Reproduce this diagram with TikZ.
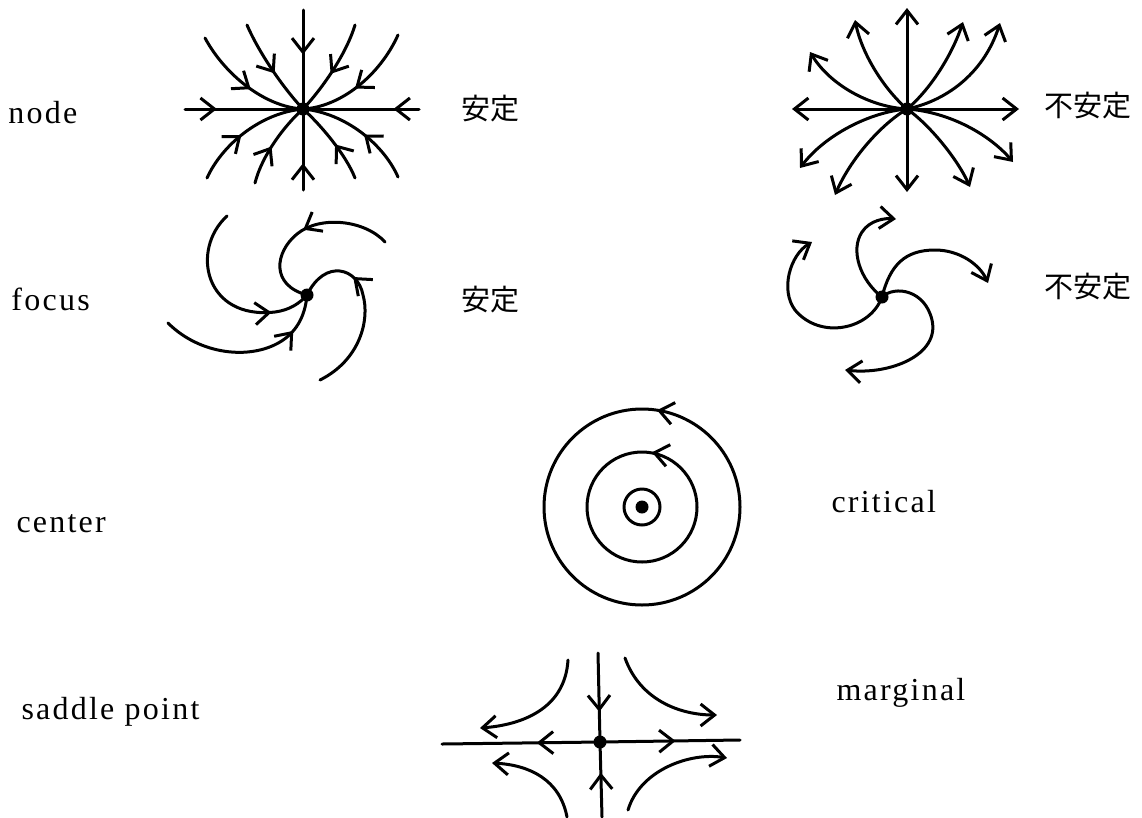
\documentclass[tikz,border=0pt]{standalone}
\usepackage{fontspec}
\setmainfont{Liberation Serif}[LetterSpace=7]
\newfontfamily\cjk{Noto Sans CJK JP}
\usetikzlibrary{arrows.meta,decorations.markings}
\begin{document}
\begin{tikzpicture}[x=1pt,y=-1pt,line width=3pt,line cap=round,
  >={Straight Barb[length=14pt,width=22pt]},
  dot/.style={circle,fill,inner sep=0pt,minimum size=13pt},
  midarr/.style={postaction={decorate},decoration={markings,mark=at position #1 with {\arrow{>}}}},
  lab/.style={font=\fontsize{32}{36}\selectfont,inner sep=0pt,anchor=base west},
  jlab/.style={font=\cjk\fontsize{29}{34}\selectfont,inner sep=0pt,anchor=west}]
\useasboundingbox (0,0) rectangle (1142,817);

% ---------- labels ----------
\node[lab] (tnode) at (7,123) {node};
\node[lab] (tfocus) at (10,310) {focus};
\node[lab] (tcenter) at (15,532) {center};
\node[lab] (tsaddle) at (20,719) {saddle point};
\node[lab] (tcrit) at (830,512) {critical};
\node[lab] (tmarg) at (835,700) {marginal};
\node[jlab] (s1) at (460,109) {安定};
\node[jlab] (u1) at (1043,106) {不安定};
\node[jlab] (s2) at (460,300) {安定};
\node[jlab] (u2) at (1043,287) {不安定};

% ---------- stable node ----------
\node[dot] (c1) at (303,109) {};
\draw[midarr=0.45] (303,10) -- (c1.center);
\draw[midarr=0.33] (303,190) -- (c1.center);
\draw[midarr=0.27] (185,109) -- (c1.center);
\draw[midarr=0.22] (419,109) -- (c1.center);
\draw[midarr=0.55] (205,38) .. controls (225,75) and (265,107) .. (c1.center);
\draw[midarr=0.55] (247,25) .. controls (260,55) and (285,90) .. (c1.center);
\draw[midarr=0.55] (355,25) .. controls (346,55) and (321,90) .. (c1.center);
\draw[midarr=0.55] (398,35) .. controls (380,75) and (341,107) .. (c1.center);
\draw[midarr=0.45] (207,178) .. controls (222,145) and (260,113) .. (c1.center);
\draw[midarr=0.45] (255,183) .. controls (262,155) and (285,125) .. (c1.center);
\draw[midarr=0.45] (355,178) .. controls (346,155) and (321,125) .. (c1.center);
\draw[midarr=0.45] (398,177) .. controls (384,145) and (346,113) .. (c1.center);

% ---------- unstable node ----------
\node[dot] (c2) at (907,109) {};
\draw[->] (c2.center) -- (907,8);
\draw[->] (c2.center) -- (907,192);
\draw[->] (c2.center) -- (792,109);
\draw[->] (c2.center) -- (1019,109);
\draw[->] (c2.center) .. controls (870,107) and (830,85) .. (810,52);
\draw[->] (c2.center) .. controls (885,90) and (862,55) .. (855,20);
\draw[->] (c2.center) .. controls (930,90) and (952,55) .. (963,22);
\draw[->] (c2.center) .. controls (950,100) and (985,70) .. (1000,23);
\draw[->] (c2.center) .. controls (870,112) and (825,135) .. (800,168);
\draw[->] (c2.center) .. controls (880,125) and (850,160) .. (835,195);
\draw[->] (c2.center) .. controls (930,125) and (958,160) .. (970,187);
\draw[->] (c2.center) .. controls (950,112) and (990,135) .. (1013,162);

% ---------- stable focus ----------
\node[dot] (f1) at (307,295) {};
\draw[midarr=0.78] (227,216) .. controls (190,250) and (205,320) .. (275,312)
   .. controls (290,310) and (300,303) .. (f1.center);
\draw[midarr=0.78] (168,323) .. controls (200,355) and (250,360) .. (280,342)
   .. controls (295,333) and (305,318) .. (f1.center);
\draw[midarr=0.5] (385,242) .. controls (365,220) and (320,215) .. (297,234)
   .. controls (275,252) and (270,285) .. (f1.center);
\draw[midarr=0.68] (320,380) .. controls (360,360) and (370,320) .. (363,295)
   .. controls (358,268) and (325,258) .. (f1.center);

% ---------- unstable focus ----------
\node[dot] (f2) at (882,297) {};
\draw[->] (f2.center) .. controls (860,280) and (850,250) .. (862,232)
   .. controls (870,220) and (885,218) .. (896,219);
\draw[->] (f2.center) .. controls (870,330) and (820,340) .. (795,310)
   .. controls (780,290) and (790,255) .. (812,242);
\draw[->] (f2.center) .. controls (890,265) and (905,250) .. (935,250)
   .. controls (960,250) and (980,265) .. (988,283);
\draw[->] (f2.center) .. controls (895,285) and (925,290) .. (932,320)
   .. controls (940,355) and (890,375) .. (845,370);

% ---------- center ----------
\node[dot] (cc) at (642,507) {};
\draw (cc.center) circle (18);
\draw (cc.center) circle (55);
\draw (cc.center) circle (98);
\draw[->] (660,410.8) -- (657,410.2);
\draw[->] (655,452.9) -- (652,452.3);

% ---------- saddle ----------
\node[dot] (sp) at (600,742) {};
\draw[midarr=0.4] (sp.center) -- (442,744);
\draw[midarr=0.54] (sp.center) -- (740,740);
\draw[midarr=0.66] (598,653) -- (sp.center);
\draw[midarr=0.59] (602,817) -- (sp.center);
\draw[->] (568,660) .. controls (565,710) and (520,725) .. (480,728);
\draw[->] (625,658) .. controls (640,700) and (680,715) .. (717,715);
\draw[->] (567,817) .. controls (560,780) and (530,765) .. (492,763);
\draw[->] (628,810) .. controls (640,770) and (690,752) .. (727,758);
\end{tikzpicture}
\end{document}
